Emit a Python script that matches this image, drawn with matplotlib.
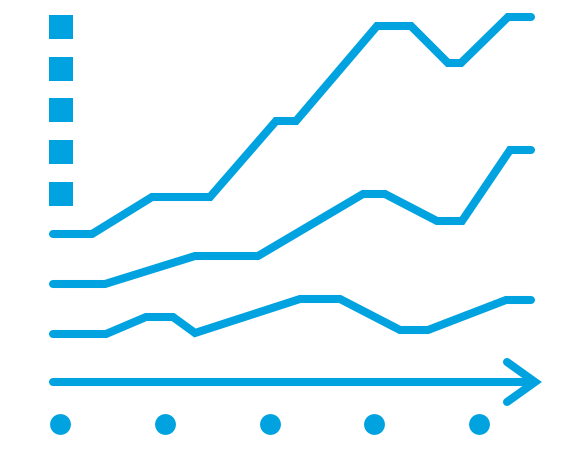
import matplotlib
matplotlib.use("Agg")
from matplotlib import pyplot as plt

# Color del icono
azul = '#00a3e0'

# Series (coordenadas en pixeles de la imagen, y hacia abajo)
x_alta = [53, 92, 152, 210, 276, 296, 377, 411, 448, 461, 508, 531]
y_alta = [234, 234, 197, 197, 121, 121, 26, 26, 63, 63, 17, 17]

x_media = [53, 105, 195, 258, 363, 385, 437, 462, 510, 531]
y_media = [284, 284, 256, 256, 194, 194, 221, 221, 150, 150]

x_baja = [53, 106, 146, 173, 195, 300, 340, 400, 428, 506, 531]
y_baja = [334, 334, 317, 317, 333, 299, 299, 330, 330, 300, 300]

# Marcas del eje y (cuadrados) y del eje x (puntos)
x_cuadros = [60.5] * 5
y_cuadros = [26.5, 68.5, 110, 151.5, 193.5]
x_puntos = [60, 165, 270, 374, 479]
y_puntos = [424] * 5

# Flecha del eje x
x_flecha = [53, 534]
y_flecha = [382, 382]
x_punta = [507, 535, 507]
y_punta = [362, 382, 402]

fig = plt.figure(figsize=(5.83, 4.5), dpi=100)
ax = fig.add_axes([0, 0, 1, 1])
ax.set_xlim(0, 583)
ax.set_ylim(450, 0)
ax.axis('off')

estilo = dict(color=azul, lw=5.8, solid_capstyle='round', solid_joinstyle='miter')
for xs, ys in [(x_alta, y_alta), (x_media, y_media), (x_baja, y_baja)]:
    ax.plot(xs, ys, **estilo)

ax.plot(x_flecha, y_flecha, color=azul, lw=5.8, solid_capstyle='round')
ax.plot(x_punta, y_punta, color=azul, lw=5.8, solid_capstyle='round', solid_joinstyle='miter')

ax.plot(x_cuadros, y_cuadros, 's', color=azul, markersize=17.3, markeredgewidth=0)
ax.plot(x_puntos, y_puntos, 'o', color=azul, markersize=15, markeredgewidth=0)

fig.savefig('out.png', dpi=100)
